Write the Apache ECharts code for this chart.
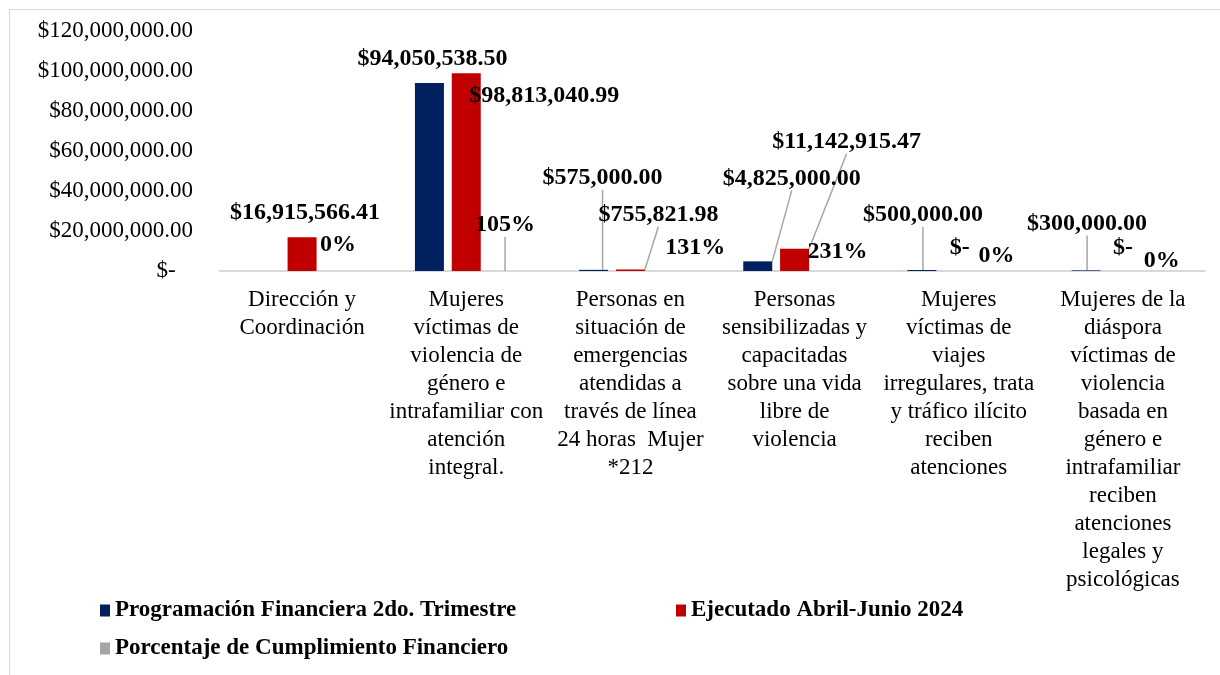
<!DOCTYPE html>
<html>
<head>
<meta charset="utf-8">
<script src="https://cdn.jsdelivr.net/npm/echarts@6/dist/echarts.min.js"></script>
<style>
  html, body { margin: 0; padding: 0; background: #fff; }
  #chart { width: 1220px; height: 675px; }
  #frame { position: absolute; left: 9px; top: 9px; width: 1230px; height: 700px;
           border-left: 1px solid #d9d9d9; border-top: 1px solid #d9d9d9; pointer-events: none; }
</style>
</head>
<body>
<div id="chart"></div>
<div id="frame"></div>
<script>
var categories = [
    'Dirección y\nCoordinación',
    'Mujeres\nvíctimas de\nviolencia de\ngénero e\nintrafamiliar con\natención\nintegral.',
    'Personas en\nsituación de\nemergencias\natendidas a\ntravés de línea\n24 horas  Mujer\n*212',
    'Personas\nsensibilizadas y\ncapacitadas\nsobre una vida\nlibre de\nviolencia',
    'Mujeres\nvíctimas de\nviajes\nirregulares, trata\ny tráfico ilícito\nreciben\natenciones',
    'Mujeres de la\ndiáspora\nvíctimas de\nviolencia\nbasada en\ngénero e\nintrafamiliar\nreciben\natenciones\nlegales y\npsicológicas'
];
var programado = [null, 94050538.50, 575000.00, 4825000.00, 500000.00, 300000.00];
var ejecutado = [16915566.41, 98813040.99, 755821.98, 11142915.47, 0, 0];
var cumplimiento = [0, 1.05, 1.31, 2.31, 0, 0];
var seriesNames = [
    'Programación Financiera 2do. Trimestre',
    'Ejecutado Abril-Junio 2024',
    'Porcentaje de Cumplimiento Financiero'
];

// label moves [dx, dy] and leader lines, per series
var labelMoves = [
    [[0, 0], [3, -8], [9, -76], [34, -67], [1, -39], [1, -31]],
    [[3, -8], [78, 38], [28, -39], [52, -91], [1, -7], [0, -7]],
    [[-1, -10], [2, -30], [28, -7], [6, -3], [1, 1], [2, 6]]
];
var leaders = [
    [false, false, true, true, true, true],
    [false, false, true, true, false, false],
    [false, true, false, false, false, false]
];

var FONT = '"Liberation Serif", "Times New Roman", serif';

function money(v) {
    if (!v) return '$-';
    return '$' + v.toLocaleString('en-US', {minimumFractionDigits: 2, maximumFractionDigits: 2});
}

function items(values, s) {
    return values.map(function (v, i) {
        return {value: v, labelLine: {show: leaders[s][i]}};
    });
}

var labelStyle = {
    show: true,
    position: 'top',
    distance: 4,
    fontFamily: FONT,
    fontWeight: 'bold',
    fontSize: 24,
    color: '#000'
};

function moveLabel(params) {
    var m = labelMoves[params.seriesIndex][params.dataIndex];
    return {dx: m[0], dy: m[1]};
}

function legendAt(name, left, top) {
    return {
        data: [name],
        left: left, top: top,
        icon: 'rect', itemWidth: 10, itemHeight: 12,
        textStyle: {fontFamily: FONT, fontWeight: 'bold', fontSize: 23, color: '#000'}
    };
}

var chart = echarts.init(document.getElementById('chart'));
chart.setOption({
    animation: false,
    textStyle: {fontFamily: FONT},
    grid: {left: 220, right: 15, top: 31, bottom: 404},
    legend: [
        legendAt(seriesNames[0], 95, 594),
        legendAt(seriesNames[1], 671, 594),
        legendAt(seriesNames[2], 95, 632)
    ],
    xAxis: {
        type: 'category',
        data: categories,
        axisLine: {lineStyle: {color: '#d9d9d9', width: 2}},
        axisTick: {show: false},
        axisLabel: {interval: 0, margin: 15, fontFamily: FONT, fontSize: 23, lineHeight: 28, color: '#000'}
    },
    yAxis: {
        type: 'value',
        min: 0, max: 120000000, interval: 20000000,
        splitLine: {show: false},
        axisLine: {show: false},
        axisLabel: {
            margin: 27,
            fontFamily: FONT, fontSize: 23, color: '#000',
            formatter: function (v) { return v === 0 ? '$-   ' : money(v); }
        }
    },
    series: [
        {
            name: seriesNames[0],
            type: 'bar',
            data: items(programado, 0),
            barWidth: 29,
            barGap: '27%',
            itemStyle: {color: '#002060'},
            label: Object.assign({}, labelStyle, {formatter: function (p) { return money(p.value); }}),
            labelLayout: moveLabel,
            labelLine: {lineStyle: {color: '#a6a6a6', width: 1.5}}
        },
        {
            name: seriesNames[1],
            type: 'bar',
            data: items(ejecutado, 1),
            barWidth: 29,
            barGap: '27%',
            itemStyle: {color: '#c00000'},
            label: Object.assign({}, labelStyle, {formatter: function (p) { return money(p.value); }}),
            labelLayout: moveLabel,
            labelLine: {lineStyle: {color: '#a6a6a6', width: 1.5}}
        },
        {
            name: seriesNames[2],
            type: 'bar',
            data: items(cumplimiento, 2),
            barWidth: 29,
            barGap: '27%',
            itemStyle: {color: '#a5a5a5'},
            label: Object.assign({}, labelStyle, {formatter: function (p) { return Math.round(p.value * 100) + '%'; }}),
            labelLayout: moveLabel,
            labelLine: {lineStyle: {color: '#a6a6a6', width: 1.5}}
        }
    ]
});
</script>
</body>
</html>
